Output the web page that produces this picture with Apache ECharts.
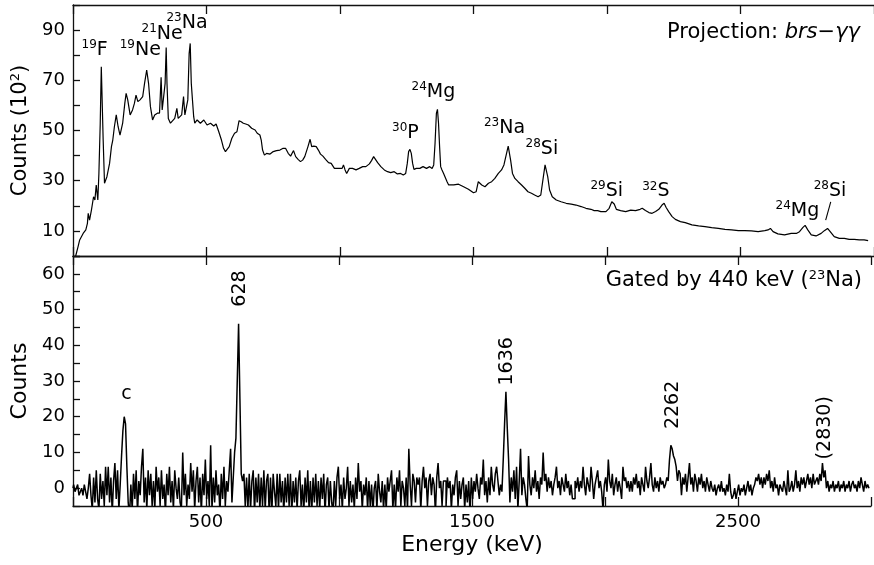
<!DOCTYPE html>
<html><head><meta charset="utf-8">
<script src="https://cdn.jsdelivr.net/npm/echarts@6/dist/echarts.min.js"></script>
<style>html,body{margin:0;padding:0;background:#fff}#c{width:874px;height:565px}</style>
</head><body><div id="c"></div>
<script>
// ---------- DATA ----------
// Upper panel: total projection, [energy keV, counts / 100]
const projection = [
[10,0],[19,3.7],[25,6.4],[38,9.0],[48,10.4],[54,13.0],[57,17.0],[62,14.3],[69,18.3],[77,23.6],
[82,22.3],[87,28.3],[93,22.3],[97,32.9],[102,52.9],[106,75.4],[110,74.8],[113,46.2],[118,29.0],[127,31.6],
[137,36.9],[144,43.6],[149,46.2],[155,51.5],[162,56.2],[169,51.5],[176,48.2],[186,52.9],[194,60.8],[199,64.8],
[205,62.2],[214,56.2],[223,58.2],[230,60.8],[236,64.1],[243,61.5],[251,62.2],[261,63.5],[268,68.8],[276,74.1],
[283,68.8],[290,59.5],[298,54.2],[306,56.2],[316,56.9],[324,56.9],[330,71.2],[334,58.2],[340,57.5],[345,68.8],
[349,83.1],[352,68.8],[357,54.8],[365,52.9],[372,52.2],[381,54.8],[389,58.8],[394,54.8],[400,54.2],[407,56.2],
[414,63.5],[419,56.2],[425,56.2],[430,62.2],[435,80.7],[439,84.7],[443,68.8],[447,62.8],[452,55.5],[456,52.9],
[465,54.2],[477,52.9],[490,54.2],[502,52.2],[515,52.9],[527,51.8],[536,52.6],[546,49.5],[556,46.2],[564,42.9],
[571,41.6],[578,42.2],[585,43.6],[595,46.9],[605,48.9],[614,49.5],[622,53.9],[630,53.5],[638,52.9],[647,52.6],
[657,52.2],[669,50.9],[682,50.2],[690,48.9],[700,48.2],[705,46.2],[710,42.2],[717,40.2],[725,40.9],[738,40.6],
[750,41.6],[762,42.0],[775,42.2],[787,42.9],[796,42.9],[806,40.9],[815,39.8],[826,42.0],[834,39.6],[843,38.5],
[852,37.6],[860,38.2],[868,39.6],[874,41.6],[880,43.6],[888,46.5],[894,43.6],[902,43.8],[911,43.6],[919,42.2],
[927,40.6],[936,39.8],[946,38.5],[957,37.2],[967,36.9],[979,34.9],[989,34.9],[1000,34.9],[1008,34.9],[1013,36.3],
[1019,34.3],[1025,32.9],[1035,34.9],[1047,34.9],[1060,34.3],[1072,34.9],[1085,35.6],[1097,35.6],[1110,36.7],[1118,38.0],
[1126,39.6],[1132,38.9],[1141,37.2],[1153,35.6],[1166,34.3],[1178,33.6],[1190,33.2],[1203,33.6],[1215,32.7],[1227,32.9],
[1237,32.3],[1246,32.9],[1252,36.9],[1257,41.6],[1262,42.5],[1267,40.9],[1272,36.9],[1277,34.5],[1286,34.9],[1299,34.9],
[1311,35.6],[1324,34.9],[1336,35.6],[1345,34.9],[1351,36.3],[1356,44.9],[1361,56.8],[1365,58.4],[1369,52.9],[1373,43.6],
[1377,35.6],[1382,34.3],[1388,32.9],[1401,29.6],[1407,28.3],[1426,28.3],[1444,28.6],[1463,27.6],[1481,26.6],[1500,25.2],
[1510,25.6],[1518,29.6],[1525,30.3],[1531,28.3],[1543,27.6],[1556,29.0],[1568,29.6],[1580,30.9],[1593,32.9],[1605,34.3],
[1614,36.3],[1621,39.6],[1630,43.8],[1634,43.6],[1639,38.2],[1646,32.9],[1655,30.9],[1667,29.6],[1680,28.3],[1692,27.0],
[1704,25.6],[1717,25.0],[1729,24.3],[1742,23.6],[1752,24.3],[1760,30.3],[1768,36.3],[1773,36.3],[1778,31.6],[1785,26.3],
[1795,23.6],[1810,22.3],[1828,21.6],[1847,21.0],[1866,20.7],[1884,20.3],[1903,19.7],[1921,19.0],[1940,18.6],[1952,18.1],
[1965,18.1],[1977,17.7],[1996,17.7],[2008,19.0],[2018,21.6],[2027,20.7],[2035,18.6],[2051,18.1],[2070,17.7],[2089,18.3],
[2107,18.1],[2124,18.6],[2132,19.0],[2144,18.1],[2157,17.3],[2169,17.0],[2182,17.7],[2194,18.6],[2206,20.3],[2214,21.0],
[2221,19.4],[2231,17.7],[2244,15.7],[2256,14.6],[2275,13.7],[2293,13.3],[2318,12.4],[2343,12.0],[2367,11.7],[2392,11.3],
[2417,11.0],[2442,10.6],[2467,10.4],[2492,10.1],[2516,10.1],[2541,10.0],[2566,9.7],[2591,10.1],[2603,10.4],[2612,11.0],
[2622,9.7],[2640,8.8],[2665,8.4],[2690,9.0],[2709,9.0],[2721,9.7],[2734,11.4],[2742,12.2],[2752,10.4],[2765,8.4],
[2783,8.0],[2802,9.0],[2814,10.1],[2826,11.0],[2836,9.7],[2851,7.7],[2870,7.0],[2889,7.0],[2907,6.6],[2926,6.6],
[2945,6.4],[2963,6.4],[2978,6.1]
];

// Lower panel: spectrum gated by 440 keV, one value per channel
const gatedFirstKeV = 0;
const gatedChannelKeV = 5;
const gatedCounts = [
0,1,-1,0,1,-2,-1,0,-2,1,-1,-3,0,4,-2,-6,3,-4,5,-3,
-6,4,-3,2,-5,6,-2,6,-4,3,-7,2,7,-3,5,-6,1,9,16,20,
18,6,-4,-8,1,-6,4,-3,5,-7,2,-2,6,11,-4,3,-6,5,-2,4,
-5,2,-6,6,-1,3,-5,5,-3,1,-7,4,-2,6,-4,2,-6,5,0,-3,
3,-4,-6,10,-2,4,-5,1,-3,7,-1,5,-6,2,6,-4,3,-7,4,-2,
8,-3,2,-5,12,-6,3,-4,5,-2,1,-7,4,-3,6,-5,2,-1,5,11,
-4,3,10,14,30,46,25,4,2,4,-5,3,-6,4,-6,2,5,-7,3,-4,
4,-6,3,-5,5,-6,2,4,-7,3,-7,4,-1,-5,4,-6,4,-4,2,-7,
3,-4,4,-5,4,-7,2,-4,3,-6,2,5,-5,1,-7,3,-4,5,-6,2,
-7,3,-4,4,-5,2,-6,3,-3,4,-7,1,3,-6,2,-4,-7,2,-5,3,
6,-3,1,-6,3,-3,0,6,-5,2,-4,1,-6,3,-3,7,-1,2,-6,1,
-2,3,-6,2,-5,1,-7,0,2,-6,4,-1,-4,2,-6,1,-6,3,-1,2,
5,-6,1,-6,3,-1,5,-5,2,0,-5,3,-6,11,1,-5,4,2,-4,3,
1,3,-6,2,6,0,3,-5,2,4,-2,3,1,-7,3,7,0,2,-5,2,
2,-5,3,0,2,-6,1,-2,3,5,-5,2,-3,1,3,-6,1,-4,2,-7,
3,-3,2,-1,4,0,-3,3,1,8,-2,2,-4,3,-2,6,1,-1,4,6,
2,-2,1,-1,8,18,27,17,8,-4,3,-1,5,-3,6,-6,2,11,-2,3,
1,-3,-6,9,1,-2,3,0,5,-1,2,-3,3,1,10,2,4,-1,3,0,
2,-2,1,3,6,0,2,-2,3,1,-1,4,0,2,-2,1,-3,-3,2,0,
3,-1,2,0,6,1,-2,3,1,-1,6,2,-3,1,3,5,0,2,-1,-6,
1,3,-1,8,2,0,4,-2,1,3,-1,2,0,-3,6,2,3,0,2,-1,
2,-1,3,1,4,0,2,-2,3,1,-1,6,2,0,3,7,1,-1,3,0,
2,-1,3,1,2,0,1,3,2,8,12,11,9,8,6,2,5,4,-2,3,
1,4,-1,3,7,1,3,-1,4,2,-1,3,1,4,0,2,-1,3,1,-1,
2,0,-1,1,-2,0,1,-1,2,-1,0,-2,1,-1,4,-1,-3,-2,0,-3,
-1,1,-2,0,-1,1,-2,0,2,-1,1,-2,0,1,3,2,4,1,3,0,
3,1,4,2,5,0,2,-1,3,0,1,-2,1,0,-1,2,0,-2,5,-1,
0,2,-1,1,5,0,2,-1,3,1,3,0,2,4,1,3,0,4,1,2,
3,1,4,2,7,3,5,0,2,-1,1,0,2,-1,1,0,2,-1,1,0,
2,-1,1,0,2,-1,1,2,0,1,-1,2,0,3,1,-1,2,0,1,0
];

// Tick labels
const energyTickLabels = [500, 1500, 2500];
const topCountTickLabels = [10, 30, 50, 70, 90];
const bottomCountTickLabels = [0, 10, 20, 30, 40, 50, 60];

// Peak annotations (text + anchor in data units)
const topAnnotations = [
  {text: '{s|19}{m|F}', at: [81, 82]},
  {text: '{s|19}{m|Ne}', at: [252, 82]},
  {text: '{s|21}{m|Ne}', at: [334, 88.6]},
  {text: '{s|23}{m|Na}', at: [427, 92.8]},
  {text: '{s|30}{m|P}', at: [1245, 49]},
  {text: '{s|24}{m|Mg}', at: [1350, 65.3]},
  {text: '{s|23}{m|Na}', at: [1616, 51]},
  {text: '{s|28}{m|Si}', at: [1756, 42.6]},
  {text: '{s|29}{m|Si}', at: [1999, 25.9]},
  {text: '{s|32}{m|S}', at: [2183, 25.7]},
  {text: '{s|24}{m|Mg}', at: [2713, 17.9]},
  {text: '{s|28}{m|Si}', at: [2835, 25.9]}
];
const pointerLine = [[2819, 14.3], [2838, 21.6]];
const bottomAnnotations = [
  {text: 'c', at: [201, 26.4], rotate: 0},
  {text: '628', at: [627, 55.9], rotate: 90},
  {text: '1636', at: [1631, 35.5], rotate: 90},
  {text: '2262', at: [2255, 23.3], rotate: 90},
  {text: '(2830)', at: [2828, 16.9], rotate: 90}
];

// ---------- CHART ----------
const FONT = 'DejaVu Sans';
const INK = '#000';
const chart = echarts.init(document.getElementById('c'), null, {renderer: 'canvas'});

const frameLine = {show: true, onZero: false, lineStyle: {color: '#111', width: 1.3}};
const xBase = (grid, pos) => ({
  type: 'value', gridIndex: grid, position: pos, min: 0, max: 3000, interval: 500,
  axisLine: frameLine,
  axisTick: {show: true, inside: true, length: 9, lineStyle: {color: '#111', width: 1.3}},
  splitLine: {show: false},
  axisLabel: {show: false}
});
const supRich = {
  s: {fontSize: 12, fontFamily: FONT, color: INK, verticalAlign: 'top', lineHeight: 12},
  m: {fontSize: 19, fontFamily: FONT, color: INK, lineHeight: 22}
};

const xAxes = [xBase(0, 'bottom'), xBase(0, 'top'), xBase(1, 'bottom'), xBase(1, 'top')];
xAxes[2].axisLabel = {
  show: true, margin: 7, fontSize: 18, fontFamily: FONT, color: INK,
  formatter: v => energyTickLabels.includes(v) ? String(v) : ''
};
xAxes[2].name = 'Energy (keV)';
xAxes[2].nameLocation = 'middle';
xAxes[2].nameGap = 28;
xAxes[2].nameTextStyle = {fontSize: 22, fontFamily: FONT, color: INK, verticalAlign: 'top'};

const yBase = (grid, min, max, labels) => ({
  type: 'value', gridIndex: grid, min: min, max: max, interval: (grid === 0 ? 10 : 5),
  axisLine: frameLine,
  axisTick: {show: true, inside: true, length: 7, lineStyle: {color: '#111', width: 1.3}},
  splitLine: {show: false},
  axisLabel: {show: true, margin: 8, fontSize: 18, fontFamily: FONT, color: INK,
    formatter: v => labels.includes(v) ? String(v) : ''},
  nameLocation: 'middle'
});
const yTop = yBase(0, 0, 100, topCountTickLabels);
yTop.name = '{a|Counts (10}{s|2}{a|)}';
yTop.nameGap = 39;
yTop.nameTextStyle = {
  rich: {
    a: {fontSize: 21, fontFamily: FONT, color: INK, lineHeight: 24},
    s: {fontSize: 13, fontFamily: FONT, color: INK, verticalAlign: 'top', lineHeight: 13}
  }
};
const yBot = yBase(1, -5, 65, bottomCountTickLabels);
yBot.name = 'Counts';
yBot.nameGap = 39;
yBot.nameTextStyle = {fontSize: 22, fontFamily: FONT, color: INK};

const annoSeries = (list, xi, yi, rich) => ({
  type: 'scatter', xAxisIndex: xi, yAxisIndex: yi, silent: true,
  symbolSize: 1, itemStyle: {color: 'rgba(255,255,255,0)'},
  data: list.map(a => ({
    value: a.at,
    label: {show: true, position: [0.5, 0.5], formatter: a.text, rotate: a.rotate || 0,
      fontSize: 19, fontFamily: FONT, color: INK, rich: rich, opacity: 1,
      textBorderWidth: 0, align: 'center', verticalAlign: 'middle'}
  })),
  z: 5
});

const option = {
  animation: false,
  backgroundColor: '#fff',
  grid: [
    {left: 73, top: 5, right: -6, height: 251},
    {left: 73, top: 256, right: -6, height: 250}
  ],
  xAxis: xAxes,
  yAxis: [yTop, yBot],
  series: [
    {
      type: 'line', xAxisIndex: 0, yAxisIndex: 0, data: projection,
      showSymbol: false, silent: true, lineStyle: {color: '#000', width: 1.2},
      markLine: {
        silent: true, symbol: ['none', 'none'], label: {show: false},
        lineStyle: {color: '#000', width: 1.1, type: 'solid'},
        data: [[{coord: pointerLine[0]}, {coord: pointerLine[1]}]]
      }
    },
    {
      type: 'line', xAxisIndex: 2, yAxisIndex: 1, step: 'middle',
      data: gatedCounts.map((v, i) => [gatedFirstKeV + i * gatedChannelKeV, v]),
      showSymbol: false, silent: true, lineStyle: {color: '#000', width: 1.5}
    },
    annoSeries(topAnnotations, 0, 0, supRich),
    annoSeries(bottomAnnotations, 2, 1, null)
  ],
  graphic: [
    {
      type: 'text', x: 860, y: 33, z: 10,
      style: {
        text: '{n|Projection: }{i|brs}{n|\u2212}{i|\u03b3\u03b3}',
        align: 'right', verticalAlign: 'middle',
        rich: {
          n: {fontSize: 21, fontFamily: FONT, fill: INK, color: INK},
          i: {fontSize: 21, fontFamily: FONT, fontStyle: 'italic', fill: INK, color: INK}
        }
      }
    },
    {
      type: 'text', x: 862, y: 281, z: 10,
      style: {
        text: '{n|Gated by 440 keV (}{s|23}{n|Na)}',
        align: 'right', verticalAlign: 'middle',
        rich: {
          n: {fontSize: 21, fontFamily: FONT, fill: INK, color: INK, lineHeight: 24},
          s: {fontSize: 13, fontFamily: FONT, fill: INK, color: INK, verticalAlign: 'top', lineHeight: 13}
        }
      }
    }
  ]
};
chart.setOption(option);
</script>
</body></html>
